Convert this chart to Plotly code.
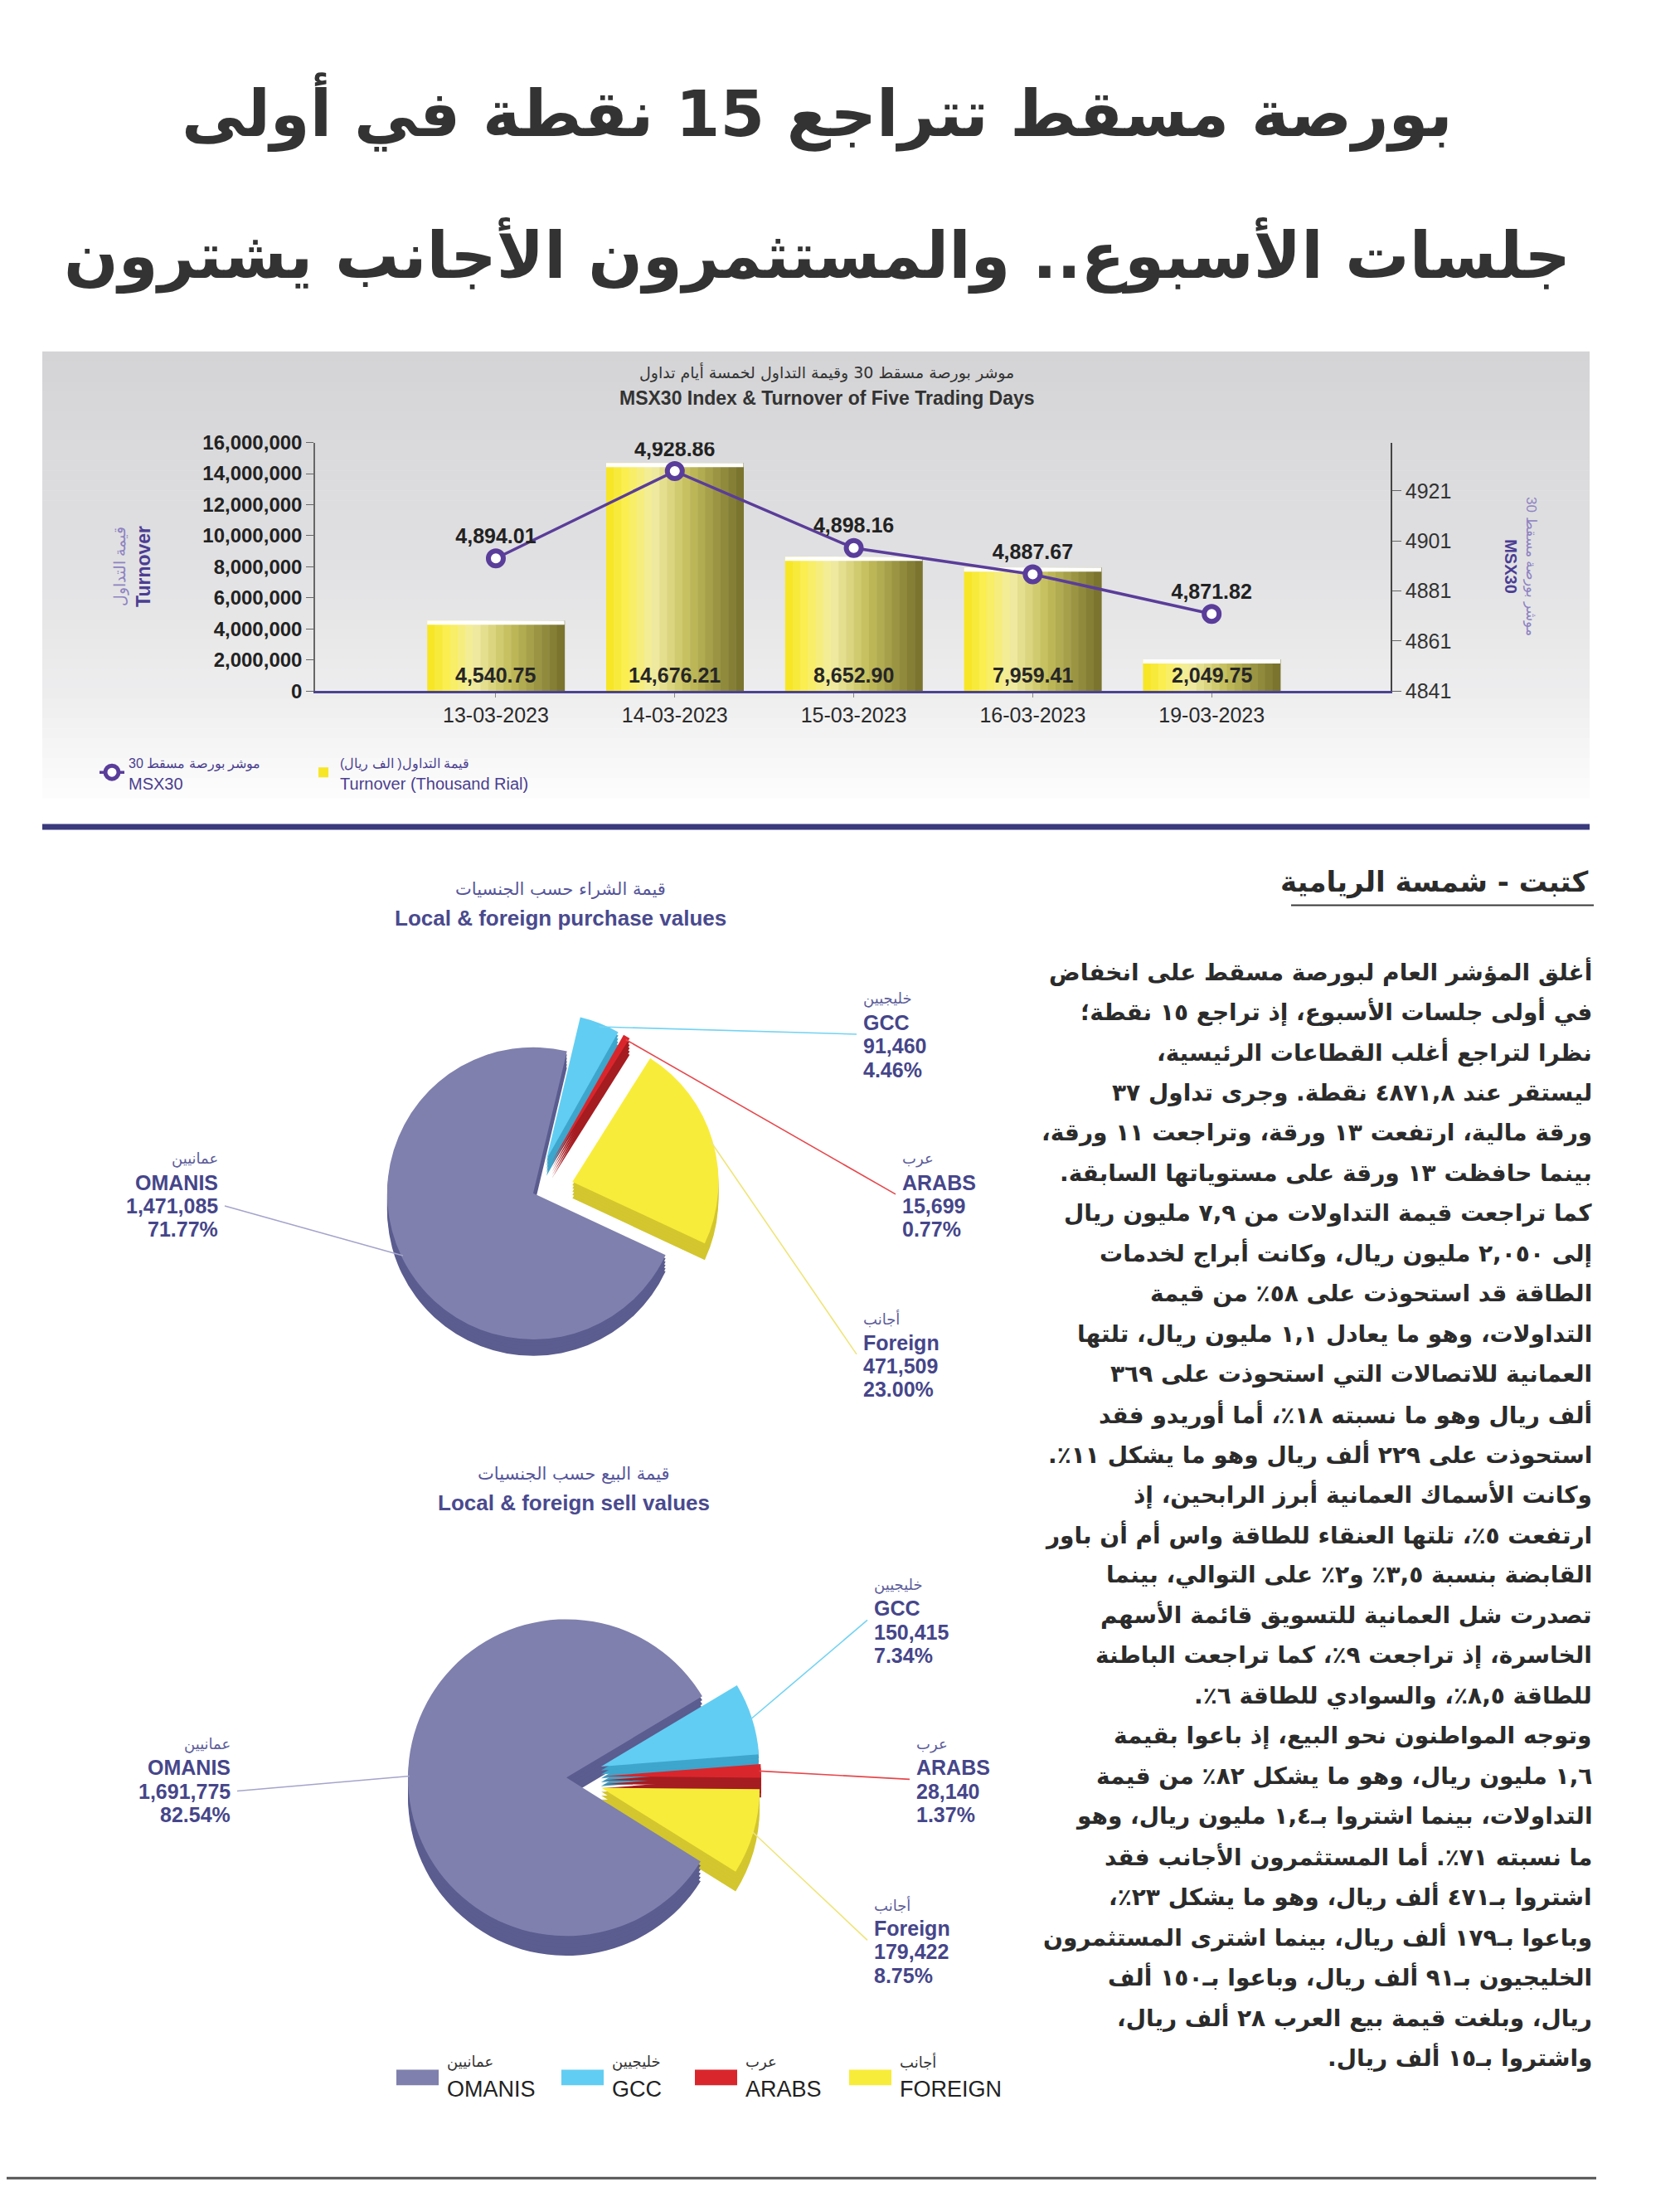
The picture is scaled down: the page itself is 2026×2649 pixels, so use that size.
import math
import plotly.graph_objects as go

W, H = 2026, 2649
OFF = 8  # default page margin of the written html page


def px(x):
    return (x - OFF) / W


def py(y):
    return 1 - (y - OFF) / H


def rtl(s):
    return "\u200f" + s + "\u200f"


# ------------------------------------------------------------------ data
dates = ["13-03-2023", "14-03-2023", "15-03-2023", "16-03-2023", "19-03-2023"]
turnover_k = [4540.75, 14676.21, 8652.90, 7959.41, 2049.75]      # thousand rial
msx30 = [4894.01, 4928.86, 4898.16, 4887.67, 4871.82]
left_ticks = [0, 2000000, 4000000, 6000000, 8000000, 10000000, 12000000, 14000000, 16000000]
right_ticks = [4841, 4861, 4881, 4901, 4921]

nat_ar = ["عمانيين", "خليجيين", "عرب", "أجانب"]
nat_en = ["OMANIS", "GCC", "ARABS", "Foreign"]
nat_legend = ["OMANIS", "GCC", "ARABS", "FOREIGN"]
buy_values = [1471085, 91460, 15699, 471509]
sell_values = [1691775, 150415, 28140, 179422]

title_lines = ["بورصة مسقط تتراجع 15 نقطة في أولى",
               "جلسات الأسبوع.. والمستثمرون الأجانب يشترون"]
byline = "كتبت - شمسة الريامية"
article_lines = [
    "أغلق المؤشر العام لبورصة مسقط على انخفاض",
    "في أولى جلسات الأسبوع، إذ تراجع ١٥ نقطة؛",
    "نظرا لتراجع أغلب القطاعات الرئيسية،",
    "ليستقر عند ٤٨٧١,٨ نقطة. وجرى تداول ٣٧",
    "ورقة مالية، ارتفعت ١٣ ورقة، وتراجعت ١١ ورقة،",
    "بينما حافظت ١٣ ورقة على مستوياتها السابقة.",
    "كما تراجعت قيمة التداولات من ٧,٩ مليون ريال",
    "إلى ٢,٠٥٠ مليون ريال، وكانت أبراج لخدمات",
    "الطاقة قد استحوذت على ٥٨٪ من قيمة",
    "التداولات، وهو ما يعادل ١,١ مليون ريال، تلتها",
    "العمانية للاتصالات التي استحوذت على ٣٦٩",
    "ألف ريال وهو ما نسبته ١٨٪، أما أوريدو فقد",
    "استحوذت على ٢٢٩ ألف ريال وهو ما يشكل ١١٪.",
    "وكانت الأسماك العمانية أبرز الرابحين، إذ",
    "ارتفعت ٥٪، تلتها العنقاء للطاقة واس أم أن باور",
    "القابضة بنسبة ٣,٥٪ و٢٪ على التوالي، بينما",
    "تصدرت شل العمانية للتسويق قائمة الأسهم",
    "الخاسرة، إذ تراجعت ٩٪، كما تراجعت الباطنة",
    "للطاقة ٨,٥٪، والسوادي للطاقة ٦٪.",
    "وتوجه المواطنون نحو البيع، إذ باعوا بقيمة",
    "١,٦ مليون ريال، وهو ما يشكل ٨٢٪ من قيمة",
    "التداولات، بينما اشتروا بـ١,٤ مليون ريال، وهو",
    "ما نسبته ٧١٪. أما المستثمرون الأجانب فقد",
    "اشتروا بـ٤٧١ ألف ريال، وهو ما يشكل ٢٣٪،",
    "وباعوا بـ١٧٩ ألف ريال، بينما اشترى المستثمرون",
    "الخليجيون بـ٩١ ألف ريال، وباعوا بـ١٥٠ ألف",
    "ريال، وبلغت قيمة بيع العرب ٢٨ ألف ريال،",
    "واشتروا بـ١٥ ألف ريال.",
]

# ------------------------------------------------------------------ styles
SANS = "Liberation Sans, Arial, sans-serif"
AR = "DejaVu Sans, Noto Sans, sans-serif"
PURPLE = "#5A3D9A"
NAVY = "#46468A"
pie_top = ["#7F80AD", "#62CDF2", "#D9262C", "#F8EC3A"]
pie_side = ["#5B5C8F", "#3EA5CC", "#A51C21", "#D3C62E"]

turnover_rial = [v * 1000 for v in turnover_k]

fig = go.Figure()


def note(x, y, text, font, xanchor="center", yanchor="middle", **kw):
    fig.add_annotation(x=px(x), y=py(y), xref="paper", yref="paper", text=text,
                       showarrow=False, xanchor=xanchor, yanchor=yanchor, font=font, **kw)


def lerp_color(stops, t):
    for (t0, c0), (t1, c1) in zip(stops[:-1], stops[1:]):
        if t <= t1:
            f = (t - t0) / (t1 - t0) if t1 > t0 else 0
            c = [round(a + (b - a) * f) for a, b in zip(c0, c1)]
            return "rgb({},{},{})".format(*c)
    c = stops[-1][1]
    return "rgb({},{},{})".format(*c)


# ------------------------------------------------------------------ bar chart
bar_w = 0.767
n_slices = 18
bar_stops = [(0.0, (246, 228, 28)), (0.14, (250, 238, 80)), (0.34, (242, 237, 165)),
             (0.6, (196, 190, 92)), (1.0, (116, 111, 44))]
for i in range(n_slices):
    t = (i + 0.5) / n_slices
    fig.add_trace(go.Bar(
        x=dates, y=turnover_rial,
        width=bar_w / n_slices * 1.05, offset=-bar_w / 2 + i * bar_w / n_slices,
        marker=dict(color=lerp_color(bar_stops, t), line=dict(width=0)),
        name="<span style='font-size:16px'>" + rtl("قيمة التداول( الف ريال)") +
             "</span><br>Turnover (Thousand Rial)",
        showlegend=(i == 0), legendrank=2, legend="legend",
        hoverinfo="x+y" if i == 0 else "skip",
    ))

cap = 5 / (828 - 525) * 16000000
fig.add_trace(go.Bar(
    x=dates, y=[cap] * len(dates), base=[v - cap for v in turnover_rial],
    width=bar_w, offset=-bar_w / 2, marker=dict(color="white", line=dict(width=0)),
    showlegend=False, hoverinfo="skip"))

fig.add_trace(go.Scatter(
    x=dates, y=msx30, yaxis="y2", mode="lines+markers+text",
    text=[f"{v:,.2f}" for v in msx30], textposition="top center",
    textfont=dict(family=SANS, size=25, color="#222222", weight="bold"),
    line=dict(color=PURPLE, width=3.5),
    marker=dict(symbol="circle", size=18, color="white", line=dict(color=PURPLE, width=6)),
    name="<span style='font-size:16px'>" + rtl("موشر بورصة مسقط 30") + "</span><br>MSX30" +
         "\u00a0" * 26,
    legendrank=1, legend="legend"))

# value labels inside the bars
for d, v in zip(dates, turnover_k):
    fig.add_annotation(x=d, y=0, xref="x", yref="y", text=f"{v:,.2f}", showarrow=False,
                       xanchor="center", yanchor="bottom", yshift=3,
                       font=dict(family=SANS, size=25, color="#262626", weight="bold"))


# ------------------------------------------------------------------ pies
def add_pie(values, rotation, pulls, cx, cy, r, depth, layers=5):
    half = r * (1 + max(pulls))
    dom_x = [px(cx - half), px(cx + half)]
    for k in range(layers, 0, -1):
        dy = depth * k / layers
        fig.add_trace(go.Pie(
            values=values, labels=nat_en, sort=False, direction="clockwise",
            rotation=rotation, pull=pulls, textinfo="none", hoverinfo="skip",
            marker=dict(colors=pie_side, line=dict(width=0)), showlegend=False,
            domain=dict(x=dom_x, y=[py(cy + dy + half), py(cy + dy - half)])))
    fig.add_trace(go.Pie(
        values=values, labels=nat_en, sort=False, direction="clockwise",
        rotation=rotation, pull=pulls, textinfo="none",
        hoverinfo="label+value+percent",
        marker=dict(colors=pie_top, line=dict(width=0)), showlegend=False,
        domain=dict(x=dom_x, y=[py(cy + half), py(cy - half)])))


def slice_points(values, rotation, pulls, cx, cy, r):
    tot = sum(values)
    cum = 0
    pts = []
    for v, p in zip(values, pulls):
        th = math.radians(rotation + (cum + v / 2) / tot * 360)
        R = r * (1 + p) * 0.98
        pts.append((cx + R * math.sin(th), cy - R * math.cos(th)))
        cum += v
    return pts


line_cols = ["#A4A4CC", "#74D3F2", "#E6474C", "#EFE57A"]
STEP = 28.7


def add_pie_labels(values, rotation, pulls, cx, cy, r, anchors):
    tot = sum(values)
    pts = slice_points(values, rotation, pulls, cx, cy, r)
    for i, v in enumerate(values):
        ax, ay, side = anchors[i]
        xa = "right" if side == "r" else "left"
        lines = [rtl(nat_ar[i]), nat_en[i], f"{v:,}", f"{v / tot * 100:.2f}%"]
        for j, t in enumerate(lines):
            if j == 0:
                fnt = dict(family=AR, size=18, color="#5D5D9A")
            else:
                fnt = dict(family=SANS, size=25, color=NAVY, weight="bold")
            note(ax, ay + j * STEP, t, fnt, xanchor=xa)
        ex = ax + 6 if side == "r" else ax - 6
        ey = ay + (2.0 if side == "r" else 1.5) * STEP
        sx, sy = pts[i]
        fig.add_shape(type="line", xref="paper", yref="paper",
                      x0=px(sx), y0=py(sy), x1=px(ex), y1=py(ey),
                      line=dict(color=line_cols[i], width=1.6))


buy_rot, buy_pull = 115, [0.0, 0.25, 0.25, 0.28]
sell_rot, sell_pull = 122, [0.0, 0.23, 0.23, 0.23]
P1 = (643, 1440, 178)
P2 = (683, 2152, 193)
add_pie_labels(buy_values, buy_rot, buy_pull, *P1,
               [(265, 1398, "r"), (1039, 1203, "l"), (1086, 1398, "l"), (1039, 1593, "l")])
add_pie_labels(sell_values, sell_rot, sell_pull, *P2,
               [(280, 2111, "r"), (1052, 1917, "l"), (1103, 2111, "l"), (1052, 2307, "l")])
add_pie(buy_values, buy_rot, buy_pull, *P1, depth=20)
add_pie(sell_values, sell_rot, sell_pull, *P2, depth=24)

# pie titles
for (cx, y1, y2, ar, en) in [(676, 1069, 1105, "قيمة الشراء حسب الجنسيات", "Local & foreign purchase values"),
                             (692, 1782, 1817, "قيمة البيع حسب الجنسيات", "Local & foreign sell values")]:
    note(cx, y1, rtl(ar), dict(family=AR, size=21, color="#55559A"))
    note(cx, y2, en, dict(family=SANS, size=26, color="#4A4A8E", weight="bold"))

# legend of the pies
leg_x = [478, 677, 838, 1024]
for i in range(len(nat_legend)):
    x0 = leg_x[i]
    fig.add_shape(type="rect", xref="paper", yref="paper", x0=px(x0), x1=px(x0 + 51),
                  y0=py(2527), y1=py(2508), fillcolor=pie_top[i], line=dict(width=0))
    note(x0 + 59, 2498, rtl(nat_ar[i]), dict(family=AR, size=18, color="#333333"), xanchor="left")
    note(x0 + 59, 2532, nat_legend[i], dict(family=SANS, size=27, color="#222222"), xanchor="left")

# ------------------------------------------------------------------ page decorations
bg_stops = [(0.0, (212, 212, 214)), (0.45, (224, 224, 226)), (0.78, (238, 238, 239)), (1.0, (253, 253, 253))]
y_top, y_bot, n_str = 414, 958, 45
for k in range(n_str):
    ya = y_top + (y_bot - y_top) * k / n_str
    yb = y_top + (y_bot - y_top) * (k + 1) / n_str
    fig.add_shape(type="rect", xref="paper", yref="paper", layer="below",
                  x0=px(51), x1=px(1917), y0=py(yb + 0.6), y1=py(ya),
                  fillcolor=lerp_color(bg_stops, (k + 0.5) / n_str), line=dict(width=0))
fig.add_shape(type="rect", xref="paper", yref="paper", x0=px(51), x1=px(1917),
              y0=py(997), y1=py(990), fillcolor="#3B3A7C", line=dict(width=0))
fig.add_shape(type="line", xref="paper", yref="paper", x0=px(1557), x1=px(1922),
              y0=py(1089), y1=py(1089), line=dict(color="#3A3A3A", width=2))
fig.add_shape(type="line", xref="paper", yref="paper", x0=0, x1=px(1925),
              y0=py(2640), y1=py(2640), line=dict(color="#555555", width=3))

# headline
for t, yc in zip(title_lines, [122, 297]):
    note(985, yc, rtl(t), dict(family=AR, size=77, color="#333333", weight="bold"))

# chart title and axis titles
note(997, 440, rtl("موشر بورصة مسقط 30 وقيمة التداول لخمسة أيام تداول"),
     dict(family=AR, size=19, color="#333333"))
note(997, 471, "MSX30 Index & Turnover of Five Trading Days",
     dict(family=SANS, size=23, color="#333333", weight="bold"))
note(160, 676, "<span style='color:#8E83C2;font-size:19px'>" + rtl("قيمة التداول") +
     "</span><br><b>Turnover</b>", dict(family=SANS, size=23, color="#4B3E93"), textangle=-90)
note(1833, 676, "<span style='color:#8E83C2;font-size:17px'>" + rtl("موشر بورصة مسقط 30") +
     "</span><br><b>MSX30</b>", dict(family=SANS, size=20, color="#4B3E93"), textangle=90)

# byline + article
note(1917, 1061, rtl(byline), dict(family=AR, size=34, color="#2B2B2B", weight="bold"), xanchor="right")
for i, t in enumerate(article_lines):
    note(1922, 1170 + i * 49, rtl(t), dict(family=AR, size=28, color="#2B2B2B", weight="bold"),
         xanchor="right")

# ------------------------------------------------------------------ layout
fig.update_layout(
    width=W, height=H, autosize=False,
    margin=dict(l=0, r=0, t=0, b=0),
    paper_bgcolor="white", plot_bgcolor="rgba(0,0,0,0)",
    barmode="overlay",
    xaxis=dict(domain=[px(380), px(1677)], type="category", range=[-1.01, 5.0],
               showline=True, linecolor="#4B4391", linewidth=3, ticks="outside", ticklen=5,
               tickcolor="#888888", tickfont=dict(family=SANS, size=25, color="#2A2A2A"),
               showgrid=False, zeroline=False, fixedrange=True),
    yaxis=dict(domain=[py(828), py(525)], range=[0, 16000000], tickvals=left_ticks,
               ticktext=[f"{v:,}" for v in left_ticks], showline=True, linecolor="#666666",
               linewidth=1.5, ticks="outside", ticklen=9, tickcolor="#666666",
               tickfont=dict(family=SANS, size=24, color="#222222", weight="bold"),
               showgrid=False, zeroline=False),
    yaxis2=dict(overlaying="y", side="right", anchor="x", range=[4841, 4940.3],
                tickvals=right_ticks, ticktext=[str(v) for v in right_ticks],
                showline=True, linecolor="#444444", linewidth=1.5, ticks="outside",
                ticklen=11, tickcolor="#666666",
                tickfont=dict(family=SANS, size=25, color="#333333"),
                showgrid=False, zeroline=False),
    legend=dict(orientation="h", x=px(115), y=py(894), xanchor="left", yanchor="top",
                bgcolor="rgba(0,0,0,0)", font=dict(family=SANS, size=20, color="#4B3F8F"),
                itemclick=False),
    showlegend=True,
)

fig.write_html("out.html")
